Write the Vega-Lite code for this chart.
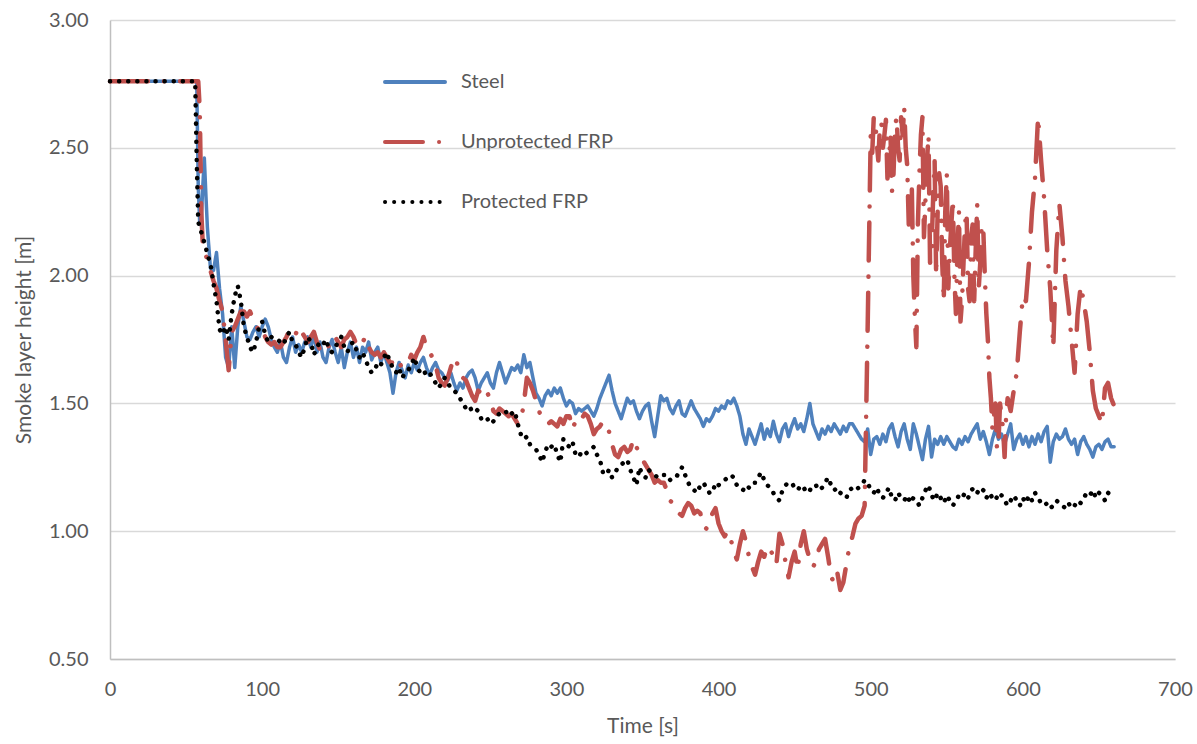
{
  "$schema": "https://vega.github.io/schema/vega-lite/v6.json",
  "width": 1065,
  "height": 639,
  "autosize": {"type": "none"},
  "padding": {"left": 110, "top": 20, "right": 22, "bottom": 85},
  "background": "white",
  "config": {
    "view": {"stroke": null},
    "font": "Lato",
    "axis": {
      "labelFont": "Lato",
      "titleFont": "Lato",
      "labelColor": "#595959",
      "titleColor": "#595959",
      "labelFontSize": 20,
      "titleFontSize": 21,
      "titleFontWeight": "normal",
      "domainColor": "#BFBFBF",
      "domainWidth": 1.5,
      "ticks": false,
      "gridColor": "#D9D9D9",
      "gridWidth": 1.3
    }
  },
  "data": {
    "values": [
      {"t": 0, "steel": 2.76, "unprot": 2.76, "prot": 2.76},
      {"t": 56, "steel": 2.76, "unprot": 2.76, "prot": 2.76},
      {"t": 57, "steel": 2.76, "unprot": 2.76, "prot": 2.45},
      {"t": 58, "steel": 2.35, "unprot": 2.76, "prot": 2.21},
      {"t": 59, "steel": 2.20, "unprot": 2.65, "prot": 2.19},
      {"t": 60, "steel": 2.22, "unprot": 2.25, "prot": 2.17},
      {"t": 61, "steel": 2.35, "unprot": 2.12, "prot": 2.15},
      {"t": 62, "steel": 2.46, "unprot": 2.10, "prot": 2.13},
      {"t": 63, "steel": 2.32, "unprot": 2.08, "prot": 2.11},
      {"t": 64, "steel": 2.19, "unprot": 2.06, "prot": 2.08},
      {"t": 66, "steel": 2.03, "unprot": 2.02, "prot": 2.05},
      {"t": 68, "steel": 2.02, "unprot": 1.98, "prot": 1.97},
      {"t": 70, "steel": 2.09, "unprot": 1.95, "prot": 1.90},
      {"t": 72, "steel": 1.95, "unprot": 1.90, "prot": 1.79},
      {"t": 74, "steel": 1.85, "unprot": 1.86, "prot": 1.77},
      {"t": 76, "steel": 1.68, "unprot": 1.75, "prot": 1.80},
      {"t": 78, "steel": 1.64, "unprot": 1.63, "prot": 1.75},
      {"t": 80, "steel": 1.80, "unprot": 1.78, "prot": 1.85},
      {"t": 82, "steel": 1.64, "unprot": 1.80, "prot": 1.92},
      {"t": 84, "steel": 1.80, "unprot": 1.83, "prot": 1.96},
      {"t": 86, "steel": 1.88, "unprot": 1.86, "prot": 1.90},
      {"t": 88, "steel": 1.82, "unprot": 1.86, "prot": 1.80},
      {"t": 90, "steel": 1.76, "unprot": 1.84, "prot": 1.76},
      {"t": 92, "steel": 1.75, "unprot": 1.86, "prot": 1.72},
      {"t": 94, "steel": 1.78, "unprot": 1.83, "prot": 1.70},
      {"t": 96, "steel": 1.80, "unprot": 1.80, "prot": 1.74},
      {"t": 98, "steel": 1.76, "unprot": 1.79, "prot": 1.80},
      {"t": 100, "steel": 1.80, "unprot": 1.80, "prot": 1.82},
      {"t": 102, "steel": 1.83, "unprot": 1.76, "prot": 1.77},
      {"t": 104, "steel": 1.80, "unprot": 1.74, "prot": 1.74},
      {"t": 106, "steel": 1.75, "unprot": 1.73, "prot": 1.76},
      {"t": 108, "steel": 1.72, "unprot": 1.74, "prot": 1.75},
      {"t": 110, "steel": 1.70, "unprot": 1.72, "prot": 1.75},
      {"t": 112, "steel": 1.74, "unprot": 1.72, "prot": 1.74},
      {"t": 114, "steel": 1.68, "unprot": 1.74, "prot": 1.73},
      {"t": 116, "steel": 1.66, "unprot": 1.76, "prot": 1.76},
      {"t": 118, "steel": 1.72, "unprot": 1.79, "prot": 1.78},
      {"t": 120, "steel": 1.76, "unprot": 1.79, "prot": 1.74},
      {"t": 122, "steel": 1.70, "unprot": 1.77, "prot": 1.73},
      {"t": 124, "steel": 1.73, "unprot": 1.80, "prot": 1.70},
      {"t": 126, "steel": 1.70, "unprot": 1.78, "prot": 1.68},
      {"t": 128, "steel": 1.74, "unprot": 1.76, "prot": 1.72},
      {"t": 130, "steel": 1.76, "unprot": 1.74, "prot": 1.76},
      {"t": 132, "steel": 1.72, "unprot": 1.76, "prot": 1.74},
      {"t": 134, "steel": 1.77, "unprot": 1.78, "prot": 1.69},
      {"t": 136, "steel": 1.70, "unprot": 1.74, "prot": 1.72},
      {"t": 138, "steel": 1.74, "unprot": 1.71, "prot": 1.74},
      {"t": 140, "steel": 1.68, "unprot": 1.72, "prot": 1.73},
      {"t": 142, "steel": 1.66, "unprot": 1.74, "prot": 1.75},
      {"t": 144, "steel": 1.72, "unprot": 1.72, "prot": 1.71},
      {"t": 146, "steel": 1.75, "unprot": 1.75, "prot": 1.70},
      {"t": 148, "steel": 1.70, "unprot": 1.76, "prot": 1.72},
      {"t": 150, "steel": 1.66, "unprot": 1.74, "prot": 1.74},
      {"t": 152, "steel": 1.72, "unprot": 1.72, "prot": 1.76},
      {"t": 154, "steel": 1.64, "unprot": 1.75, "prot": 1.72},
      {"t": 156, "steel": 1.70, "unprot": 1.76, "prot": 1.70},
      {"t": 158, "steel": 1.74, "unprot": 1.78, "prot": 1.73},
      {"t": 160, "steel": 1.68, "unprot": 1.76, "prot": 1.74},
      {"t": 162, "steel": 1.72, "unprot": 1.73, "prot": 1.71},
      {"t": 164, "steel": 1.66, "unprot": 1.75, "prot": 1.68},
      {"t": 166, "steel": 1.72, "unprot": 1.74, "prot": 1.70},
      {"t": 168, "steel": 1.70, "unprot": 1.76, "prot": 1.67},
      {"t": 170, "steel": 1.74, "unprot": 1.72, "prot": 1.64},
      {"t": 172, "steel": 1.67, "unprot": 1.70, "prot": 1.62},
      {"t": 174, "steel": 1.70, "unprot": 1.69, "prot": 1.63},
      {"t": 176, "steel": 1.72, "unprot": 1.70, "prot": 1.66},
      {"t": 178, "steel": 1.66, "unprot": 1.68, "prot": 1.65},
      {"t": 180, "steel": 1.70, "unprot": 1.70, "prot": 1.68},
      {"t": 182, "steel": 1.66, "unprot": 1.68, "prot": 1.70},
      {"t": 184, "steel": 1.62, "unprot": 1.66, "prot": 1.66},
      {"t": 186, "steel": 1.54, "unprot": 1.66, "prot": 1.64},
      {"t": 188, "steel": 1.62, "unprot": 1.64, "prot": 1.62},
      {"t": 190, "steel": 1.66, "unprot": 1.66, "prot": 1.64},
      {"t": 192, "steel": 1.63, "unprot": 1.64, "prot": 1.60},
      {"t": 194, "steel": 1.60, "unprot": 1.65, "prot": 1.62},
      {"t": 196, "steel": 1.65, "unprot": 1.66, "prot": 1.63},
      {"t": 198, "steel": 1.62, "unprot": 1.69, "prot": 1.65},
      {"t": 200, "steel": 1.66, "unprot": 1.67, "prot": 1.68},
      {"t": 202, "steel": 1.63, "unprot": 1.70, "prot": 1.64},
      {"t": 204, "steel": 1.66, "unprot": 1.72, "prot": 1.62},
      {"t": 206, "steel": 1.68, "unprot": 1.76, "prot": 1.63},
      {"t": 208, "steel": 1.64, "unprot": 1.72, "prot": 1.61},
      {"t": 210, "steel": 1.61, "unprot": 1.70, "prot": 1.62},
      {"t": 212, "steel": 1.64, "unprot": 1.68, "prot": 1.60},
      {"t": 214, "steel": 1.66, "unprot": 1.65, "prot": 1.58},
      {"t": 216, "steel": 1.63, "unprot": 1.60, "prot": 1.56},
      {"t": 218, "steel": 1.62, "unprot": 1.58, "prot": 1.58},
      {"t": 220, "steel": 1.60, "unprot": 1.57, "prot": 1.60},
      {"t": 222, "steel": 1.59, "unprot": 1.60, "prot": 1.58},
      {"t": 224, "steel": 1.62, "unprot": 1.64, "prot": 1.56},
      {"t": 226, "steel": 1.58, "unprot": 1.68, "prot": 1.55},
      {"t": 228, "steel": 1.55, "unprot": 1.66, "prot": 1.54},
      {"t": 230, "steel": 1.58, "unprot": 1.62, "prot": 1.52},
      {"t": 232, "steel": 1.56, "unprot": 1.60, "prot": 1.50},
      {"t": 234, "steel": 1.60, "unprot": 1.59, "prot": 1.48},
      {"t": 236, "steel": 1.62, "unprot": 1.56, "prot": 1.49},
      {"t": 238, "steel": 1.63, "unprot": 1.53, "prot": 1.47},
      {"t": 240, "steel": 1.60, "unprot": 1.51, "prot": 1.48},
      {"t": 242, "steel": 1.55, "unprot": 1.55, "prot": 1.47},
      {"t": 244, "steel": 1.58, "unprot": 1.54, "prot": 1.44},
      {"t": 246, "steel": 1.60, "unprot": 1.52, "prot": 1.43},
      {"t": 248, "steel": 1.62, "unprot": 1.54, "prot": 1.44},
      {"t": 250, "steel": 1.58, "unprot": 1.52, "prot": 1.42},
      {"t": 252, "steel": 1.56, "unprot": 1.47, "prot": 1.43},
      {"t": 254, "steel": 1.62, "unprot": 1.46, "prot": 1.45},
      {"t": 256, "steel": 1.66, "unprot": 1.48, "prot": 1.46},
      {"t": 258, "steel": 1.62, "unprot": 1.47, "prot": 1.46},
      {"t": 260, "steel": 1.58, "unprot": 1.46, "prot": 1.47},
      {"t": 262, "steel": 1.61, "unprot": 1.45, "prot": 1.45},
      {"t": 264, "steel": 1.64, "unprot": 1.46, "prot": 1.46},
      {"t": 266, "steel": 1.63, "unprot": 1.44, "prot": 1.47},
      {"t": 268, "steel": 1.65, "unprot": 1.42, "prot": 1.42},
      {"t": 270, "steel": 1.62, "unprot": 1.43, "prot": 1.38},
      {"t": 272, "steel": 1.69, "unprot": 1.50, "prot": 1.36},
      {"t": 274, "steel": 1.64, "unprot": 1.60, "prot": 1.37},
      {"t": 276, "steel": 1.66, "unprot": 1.58, "prot": 1.34},
      {"t": 278, "steel": 1.60, "unprot": 1.55, "prot": 1.33},
      {"t": 280, "steel": 1.54, "unprot": 1.51, "prot": 1.32},
      {"t": 282, "steel": 1.52, "unprot": 1.47, "prot": 1.30},
      {"t": 284, "steel": 1.49, "unprot": 1.44, "prot": 1.27},
      {"t": 286, "steel": 1.53, "unprot": 1.43, "prot": 1.31},
      {"t": 288, "steel": 1.55, "unprot": 1.42, "prot": 1.34},
      {"t": 290, "steel": 1.53, "unprot": 1.43, "prot": 1.33},
      {"t": 292, "steel": 1.56, "unprot": 1.42, "prot": 1.34},
      {"t": 294, "steel": 1.54, "unprot": 1.41, "prot": 1.30},
      {"t": 296, "steel": 1.56, "unprot": 1.44, "prot": 1.27},
      {"t": 298, "steel": 1.52, "unprot": 1.42, "prot": 1.36},
      {"t": 300, "steel": 1.49, "unprot": 1.45, "prot": 1.34},
      {"t": 302, "steel": 1.51, "unprot": 1.45, "prot": 1.33},
      {"t": 304, "steel": 1.50, "unprot": 1.40, "prot": 1.35},
      {"t": 306, "steel": 1.46, "unprot": 1.43, "prot": 1.30},
      {"t": 308, "steel": 1.48, "unprot": 1.42, "prot": 1.29},
      {"t": 310, "steel": 1.47, "unprot": 1.44, "prot": 1.31},
      {"t": 312, "steel": 1.48, "unprot": 1.46, "prot": 1.30},
      {"t": 314, "steel": 1.49, "unprot": 1.45, "prot": 1.31},
      {"t": 316, "steel": 1.47, "unprot": 1.42, "prot": 1.32},
      {"t": 318, "steel": 1.45, "unprot": 1.38, "prot": 1.33},
      {"t": 320, "steel": 1.48, "unprot": 1.40, "prot": 1.30},
      {"t": 322, "steel": 1.52, "unprot": 1.41, "prot": 1.28},
      {"t": 324, "steel": 1.55, "unprot": 1.43, "prot": 1.23},
      {"t": 326, "steel": 1.58, "unprot": 1.41, "prot": 1.22},
      {"t": 328, "steel": 1.61, "unprot": 1.39, "prot": 1.24},
      {"t": 330, "steel": 1.55, "unprot": 1.34, "prot": 1.21},
      {"t": 332, "steel": 1.50, "unprot": 1.30, "prot": 1.23},
      {"t": 334, "steel": 1.47, "unprot": 1.29, "prot": 1.25},
      {"t": 336, "steel": 1.44, "unprot": 1.32, "prot": 1.26},
      {"t": 338, "steel": 1.48, "unprot": 1.33, "prot": 1.27},
      {"t": 340, "steel": 1.52, "unprot": 1.31, "prot": 1.28},
      {"t": 342, "steel": 1.50, "unprot": 1.32, "prot": 1.24},
      {"t": 344, "steel": 1.51, "unprot": 1.36, "prot": 1.21},
      {"t": 346, "steel": 1.47, "unprot": 1.33, "prot": 1.18},
      {"t": 348, "steel": 1.44, "unprot": 1.30, "prot": 1.25},
      {"t": 350, "steel": 1.47, "unprot": 1.28, "prot": 1.22},
      {"t": 352, "steel": 1.49, "unprot": 1.26, "prot": 1.21},
      {"t": 354, "steel": 1.50, "unprot": 1.24, "prot": 1.24},
      {"t": 356, "steel": 1.43, "unprot": 1.22, "prot": 1.23},
      {"t": 358, "steel": 1.37, "unprot": 1.19, "prot": 1.22},
      {"t": 360, "steel": 1.45, "unprot": 1.20, "prot": 1.21},
      {"t": 362, "steel": 1.53, "unprot": 1.19, "prot": 1.22},
      {"t": 364, "steel": 1.51, "unprot": 1.19, "prot": 1.22},
      {"t": 366, "steel": 1.52, "unprot": 1.16, "prot": 1.22},
      {"t": 368, "steel": 1.48, "unprot": 1.12, "prot": 1.20},
      {"t": 370, "steel": 1.46, "unprot": 1.11, "prot": 1.21},
      {"t": 372, "steel": 1.49, "unprot": 1.10, "prot": 1.21},
      {"t": 374, "steel": 1.51, "unprot": 1.07, "prot": 1.23},
      {"t": 376, "steel": 1.46, "unprot": 1.06, "prot": 1.25},
      {"t": 378, "steel": 1.45, "unprot": 1.09, "prot": 1.22},
      {"t": 380, "steel": 1.48, "unprot": 1.11, "prot": 1.19},
      {"t": 382, "steel": 1.51, "unprot": 1.10, "prot": 1.17},
      {"t": 384, "steel": 1.48, "unprot": 1.07, "prot": 1.16},
      {"t": 386, "steel": 1.46, "unprot": 1.08, "prot": 1.15},
      {"t": 388, "steel": 1.44, "unprot": 1.07, "prot": 1.18},
      {"t": 390, "steel": 1.41, "unprot": 1.02, "prot": 1.19},
      {"t": 392, "steel": 1.44, "unprot": 1.01, "prot": 1.17},
      {"t": 394, "steel": 1.43, "unprot": 1.04, "prot": 1.15},
      {"t": 396, "steel": 1.45, "unprot": 1.07, "prot": 1.15},
      {"t": 398, "steel": 1.48, "unprot": 1.09, "prot": 1.19},
      {"t": 400, "steel": 1.47, "unprot": 1.03, "prot": 1.18},
      {"t": 402, "steel": 1.49, "unprot": 1.00, "prot": 1.19},
      {"t": 404, "steel": 1.48, "unprot": 0.98, "prot": 1.20},
      {"t": 406, "steel": 1.51, "unprot": 1.00, "prot": 1.21},
      {"t": 408, "steel": 1.50, "unprot": 0.97, "prot": 1.22},
      {"t": 410, "steel": 1.52, "unprot": 0.92, "prot": 1.21},
      {"t": 412, "steel": 1.49, "unprot": 0.89, "prot": 1.18},
      {"t": 414, "steel": 1.45, "unprot": 0.95, "prot": 1.17},
      {"t": 416, "steel": 1.38, "unprot": 1.00, "prot": 1.16},
      {"t": 418, "steel": 1.34, "unprot": 0.96, "prot": 1.18},
      {"t": 420, "steel": 1.40, "unprot": 0.90, "prot": 1.17},
      {"t": 422, "steel": 1.37, "unprot": 0.86, "prot": 1.19},
      {"t": 424, "steel": 1.34, "unprot": 0.83, "prot": 1.19},
      {"t": 426, "steel": 1.38, "unprot": 0.88, "prot": 1.21},
      {"t": 428, "steel": 1.42, "unprot": 0.92, "prot": 1.23},
      {"t": 430, "steel": 1.36, "unprot": 0.90, "prot": 1.20},
      {"t": 432, "steel": 1.40, "unprot": 0.94, "prot": 1.18},
      {"t": 434, "steel": 1.37, "unprot": 0.93, "prot": 1.17},
      {"t": 436, "steel": 1.43, "unprot": 0.90, "prot": 1.15},
      {"t": 438, "steel": 1.38, "unprot": 0.87, "prot": 1.13},
      {"t": 440, "steel": 1.35, "unprot": 0.99, "prot": 1.12},
      {"t": 442, "steel": 1.40, "unprot": 0.95, "prot": 1.16},
      {"t": 444, "steel": 1.42, "unprot": 0.88, "prot": 1.18},
      {"t": 446, "steel": 1.37, "unprot": 0.82, "prot": 1.19},
      {"t": 448, "steel": 1.41, "unprot": 0.88, "prot": 1.19},
      {"t": 450, "steel": 1.44, "unprot": 0.92, "prot": 1.17},
      {"t": 452, "steel": 1.40, "unprot": 0.85, "prot": 1.16},
      {"t": 454, "steel": 1.42, "unprot": 0.95, "prot": 1.18},
      {"t": 456, "steel": 1.39, "unprot": 1.00, "prot": 1.17},
      {"t": 458, "steel": 1.44, "unprot": 0.93, "prot": 1.15},
      {"t": 460, "steel": 1.50, "unprot": 0.89, "prot": 1.16},
      {"t": 462, "steel": 1.42, "unprot": 0.86, "prot": 1.18},
      {"t": 464, "steel": 1.39, "unprot": 0.88, "prot": 1.18},
      {"t": 466, "steel": 1.36, "unprot": 0.93, "prot": 1.16},
      {"t": 468, "steel": 1.40, "unprot": 0.95, "prot": 1.17},
      {"t": 470, "steel": 1.38, "unprot": 0.97, "prot": 1.19},
      {"t": 472, "steel": 1.41, "unprot": 0.90, "prot": 1.21},
      {"t": 474, "steel": 1.39, "unprot": 0.82, "prot": 1.18},
      {"t": 476, "steel": 1.42, "unprot": 0.80, "prot": 1.16},
      {"t": 478, "steel": 1.40, "unprot": 0.84, "prot": 1.17},
      {"t": 480, "steel": 1.38, "unprot": 0.77, "prot": 1.15},
      {"t": 482, "steel": 1.41, "unprot": 0.80, "prot": 1.14},
      {"t": 484, "steel": 1.39, "unprot": 0.87, "prot": 1.13},
      {"t": 486, "steel": 1.42, "unprot": 0.94, "prot": 1.16},
      {"t": 488, "steel": 1.42, "unprot": 0.98, "prot": 1.17},
      {"t": 490, "steel": 1.40, "unprot": 1.03, "prot": 1.16},
      {"t": 492, "steel": 1.38, "unprot": 1.05, "prot": 1.17},
      {"t": 494, "steel": 1.36, "unprot": 1.06, "prot": 1.18},
      {"t": 496, "steel": 1.35, "unprot": 1.10, "prot": 1.20},
      {"t": 498, "steel": 1.40, "unprot": 1.80, "prot": 1.19},
      {"t": 500, "steel": 1.30, "unprot": 2.55, "prot": 1.16},
      {"t": 502, "steel": 1.36, "unprot": 2.62, "prot": 1.15},
      {"t": 504, "steel": 1.37, "unprot": 2.52, "prot": 1.17},
      {"t": 506, "steel": 1.34, "unprot": 2.58, "prot": 1.14},
      {"t": 508, "steel": 1.38, "unprot": 2.50, "prot": 1.13},
      {"t": 510, "steel": 1.35, "unprot": 2.61, "prot": 1.15},
      {"t": 512, "steel": 1.40, "unprot": 2.45, "prot": 1.17},
      {"t": 514, "steel": 1.42, "unprot": 2.33, "prot": 1.13},
      {"t": 516, "steel": 1.37, "unprot": 2.58, "prot": 1.12},
      {"t": 518, "steel": 1.33, "unprot": 2.50, "prot": 1.15},
      {"t": 520, "steel": 1.39, "unprot": 2.62, "prot": 1.13},
      {"t": 522, "steel": 1.42, "unprot": 2.66, "prot": 1.12},
      {"t": 524, "steel": 1.36, "unprot": 2.43, "prot": 1.14},
      {"t": 526, "steel": 1.32, "unprot": 2.27, "prot": 1.11},
      {"t": 528, "steel": 1.42, "unprot": 2.00, "prot": 1.13},
      {"t": 530, "steel": 1.38, "unprot": 1.72, "prot": 1.12},
      {"t": 532, "steel": 1.33, "unprot": 2.40, "prot": 1.10},
      {"t": 534, "steel": 1.28, "unprot": 2.62, "prot": 1.13},
      {"t": 536, "steel": 1.36, "unprot": 2.30, "prot": 1.16},
      {"t": 538, "steel": 1.41, "unprot": 2.55, "prot": 1.18},
      {"t": 540, "steel": 1.29, "unprot": 2.10, "prot": 1.14},
      {"t": 542, "steel": 1.36, "unprot": 2.45, "prot": 1.12},
      {"t": 544, "steel": 1.34, "unprot": 2.25, "prot": 1.15},
      {"t": 546, "steel": 1.37, "unprot": 2.35, "prot": 1.13},
      {"t": 548, "steel": 1.34, "unprot": 1.90, "prot": 1.11},
      {"t": 550, "steel": 1.37, "unprot": 2.40, "prot": 1.14},
      {"t": 552, "steel": 1.35, "unprot": 2.10, "prot": 1.12},
      {"t": 554, "steel": 1.33, "unprot": 2.30, "prot": 1.10},
      {"t": 556, "steel": 1.32, "unprot": 1.85, "prot": 1.12},
      {"t": 558, "steel": 1.36, "unprot": 2.25, "prot": 1.14},
      {"t": 560, "steel": 1.34, "unprot": 1.90, "prot": 1.13},
      {"t": 562, "steel": 1.37, "unprot": 2.20, "prot": 1.15},
      {"t": 564, "steel": 1.35, "unprot": 1.95, "prot": 1.13},
      {"t": 566, "steel": 1.38, "unprot": 2.15, "prot": 1.16},
      {"t": 568, "steel": 1.40, "unprot": 1.90, "prot": 1.17},
      {"t": 570, "steel": 1.42, "unprot": 2.28, "prot": 1.15},
      {"t": 572, "steel": 1.36, "unprot": 2.05, "prot": 1.17},
      {"t": 574, "steel": 1.39, "unprot": 2.18, "prot": 1.16},
      {"t": 576, "steel": 1.35, "unprot": 1.85, "prot": 1.13},
      {"t": 578, "steel": 1.30, "unprot": 1.60, "prot": 1.15},
      {"t": 580, "steel": 1.36, "unprot": 1.40, "prot": 1.13},
      {"t": 582, "steel": 1.40, "unprot": 1.50, "prot": 1.12},
      {"t": 584, "steel": 1.36, "unprot": 1.35, "prot": 1.15},
      {"t": 586, "steel": 1.38, "unprot": 1.45, "prot": 1.14},
      {"t": 588, "steel": 1.34, "unprot": 1.29, "prot": 1.12},
      {"t": 590, "steel": 1.38, "unprot": 1.52, "prot": 1.10},
      {"t": 592, "steel": 1.42, "unprot": 1.47, "prot": 1.12},
      {"t": 594, "steel": 1.32, "unprot": 1.55, "prot": 1.14},
      {"t": 596, "steel": 1.36, "unprot": 1.62, "prot": 1.12},
      {"t": 598, "steel": 1.38, "unprot": 1.78, "prot": 1.10},
      {"t": 600, "steel": 1.34, "unprot": 1.92, "prot": 1.13},
      {"t": 602, "steel": 1.37, "unprot": 1.90, "prot": 1.11},
      {"t": 604, "steel": 1.33, "unprot": 2.05, "prot": 1.14},
      {"t": 606, "steel": 1.37, "unprot": 2.25, "prot": 1.12},
      {"t": 608, "steel": 1.34, "unprot": 2.38, "prot": 1.15},
      {"t": 610, "steel": 1.38, "unprot": 2.62, "prot": 1.13},
      {"t": 612, "steel": 1.35, "unprot": 2.45, "prot": 1.11},
      {"t": 614, "steel": 1.39, "unprot": 2.30, "prot": 1.10},
      {"t": 616, "steel": 1.41, "unprot": 2.10, "prot": 1.11},
      {"t": 618, "steel": 1.27, "unprot": 1.95, "prot": 1.09},
      {"t": 620, "steel": 1.35, "unprot": 1.72, "prot": 1.10},
      {"t": 622, "steel": 1.38, "unprot": 2.10, "prot": 1.12},
      {"t": 624, "steel": 1.36, "unprot": 2.28, "prot": 1.11},
      {"t": 626, "steel": 1.37, "unprot": 2.15, "prot": 1.10},
      {"t": 628, "steel": 1.40, "unprot": 1.98, "prot": 1.09},
      {"t": 630, "steel": 1.36, "unprot": 1.88, "prot": 1.11},
      {"t": 632, "steel": 1.34, "unprot": 1.75, "prot": 1.09},
      {"t": 634, "steel": 1.36, "unprot": 1.62, "prot": 1.10},
      {"t": 636, "steel": 1.30, "unprot": 1.85, "prot": 1.12},
      {"t": 638, "steel": 1.35, "unprot": 1.96, "prot": 1.11},
      {"t": 640, "steel": 1.37, "unprot": 1.90, "prot": 1.13},
      {"t": 642, "steel": 1.34, "unprot": 1.82, "prot": 1.15},
      {"t": 644, "steel": 1.32, "unprot": 1.70, "prot": 1.14},
      {"t": 646, "steel": 1.29, "unprot": 1.55, "prot": 1.16},
      {"t": 648, "steel": 1.33, "unprot": 1.48, "prot": 1.13},
      {"t": 650, "steel": 1.34, "unprot": 1.45, "prot": 1.15},
      {"t": 652, "steel": 1.32, "unprot": 1.42, "prot": 1.14},
      {"t": 654, "steel": 1.35, "unprot": 1.56, "prot": 1.12},
      {"t": 656, "steel": 1.36, "unprot": 1.58, "prot": 1.15},
      {"t": 658, "steel": 1.33, "unprot": 1.52, "prot": 1.14},
      {"t": 660, "steel": 1.33, "unprot": 1.49, "prot": 1.15},
      {"t": 501, "unprot": 2.48},
      {"t": 503, "unprot": 2.60},
      {"t": 505, "unprot": 2.45},
      {"t": 507, "unprot": 2.60},
      {"t": 509, "unprot": 2.55},
      {"t": 511, "unprot": 2.38},
      {"t": 513, "unprot": 2.55},
      {"t": 515, "unprot": 2.40},
      {"t": 517, "unprot": 2.62},
      {"t": 519, "unprot": 2.45},
      {"t": 521, "unprot": 2.55},
      {"t": 523, "unprot": 2.50},
      {"t": 525, "unprot": 2.20},
      {"t": 527, "unprot": 2.35},
      {"t": 529, "unprot": 1.84},
      {"t": 531, "unprot": 2.20},
      {"t": 533, "unprot": 2.55},
      {"t": 535, "unprot": 2.15},
      {"t": 537, "unprot": 2.45},
      {"t": 539, "unprot": 2.05},
      {"t": 541, "unprot": 2.30},
      {"t": 543, "unprot": 2.00},
      {"t": 545, "unprot": 2.40},
      {"t": 547, "unprot": 2.05},
      {"t": 549, "unprot": 2.25},
      {"t": 551, "unprot": 1.95},
      {"t": 553, "unprot": 2.20},
      {"t": 555, "unprot": 2.00},
      {"t": 557, "unprot": 2.10},
      {"t": 559, "unprot": 1.82},
      {"t": 561, "unprot": 2.05},
      {"t": 563, "unprot": 2.25},
      {"t": 565, "unprot": 1.90},
      {"t": 567, "unprot": 2.20},
      {"t": 569, "unprot": 2.10},
      {"t": 571, "unprot": 1.95},
      {"t": 573, "unprot": 2.20},
      {"t": 575, "unprot": 2.00},
      {"t": 577, "unprot": 1.75},
      {"t": 579, "unprot": 1.52},
      {"t": 581, "unprot": 1.45},
      {"t": 583, "unprot": 1.32},
      {"t": 585, "unprot": 1.50},
      {"t": 587, "unprot": 1.40},
      {"t": 589, "unprot": 1.45}
    ]
  },
  "transform": [
    {"fold": ["steel", "unprot", "prot"], "as": ["series", "h"]},
    {"filter": "isValid(datum.h)"}
  ],
  "encoding": {
    "x": {
      "field": "t",
      "type": "quantitative",
      "scale": {"domain": [0, 700], "nice": false},
      "axis": {
        "title": "Time [s]",
        "values": [0, 100, 200, 300, 400, 500, 600, 700],
        "grid": false,
        "labelFlush": false,
        "labelPadding": 20,
        "titlePadding": 16
      }
    },
    "y": {
      "field": "h",
      "type": "quantitative",
      "scale": {"domain": [0.5, 3], "nice": false, "zero": false},
      "axis": {
        "title": "Smoke layer height [m]",
        "values": [0.5, 1, 1.5, 2, 2.5, 3],
        "format": ".2f",
        "grid": true,
        "labelFlush": false,
        "labelPadding": 22,
        "titlePadding": 14
      }
    },
    "color": {
      "field": "series",
      "type": "nominal",
      "scale": {"domain": ["steel", "unprot", "prot"], "range": ["#4F81BD", "#C0504D", "#000000"]},
      "legend": {
        "title": null,
        "orient": "none",
        "legendX": 273,
        "legendY": 30,
        "symbolType": "stroke",
        "symbolSize": 3600,
        "symbolStrokeWidth": 4,
        "labelFontSize": 20,
        "labelColor": "#595959",
        "labelFont": "Lato",
        "labelOffset": 14,
        "rowPadding": 18,
        "labelExpr": "{'steel': 'Steel', 'unprot': 'Unprotected FRP', 'prot': 'Protected FRP'}[datum.label]",
        "encode": {"symbols": {"update": {"strokeCap": {"value": "round"}}}}
      }
    },
    "strokeDash": {
      "field": "series",
      "type": "nominal",
      "scale": {"domain": ["steel", "unprot", "prot"], "range": [[1, 0], [38, 16, 0.1, 16], [0.1, 9]]},
      "legend": {
        "title": null,
        "orient": "none",
        "legendX": 273,
        "legendY": 30,
        "symbolType": "stroke",
        "symbolSize": 3600,
        "symbolStrokeWidth": 4,
        "labelFontSize": 20,
        "labelColor": "#595959",
        "labelFont": "Lato",
        "labelOffset": 14,
        "rowPadding": 18,
        "labelExpr": "{'steel': 'Steel', 'unprot': 'Unprotected FRP', 'prot': 'Protected FRP'}[datum.label]",
        "encode": {"symbols": {"update": {"strokeCap": {"value": "round"}}}}
      }
    }
  },
  "layer": [
    {
      "transform": [{"filter": "datum.series == 'steel'"}],
      "mark": {"type": "line", "strokeWidth": 3.5, "strokeCap": "round", "strokeJoin": "round"}
    },
    {
      "transform": [{"filter": "datum.series == 'unprot'"}],
      "mark": {"type": "line", "strokeWidth": 4.5, "strokeCap": "round", "strokeJoin": "round"}
    },
    {
      "transform": [{"filter": "datum.series == 'prot'"}],
      "mark": {"type": "line", "strokeWidth": 4.5, "strokeCap": "round", "strokeJoin": "round"}
    }
  ]
}
